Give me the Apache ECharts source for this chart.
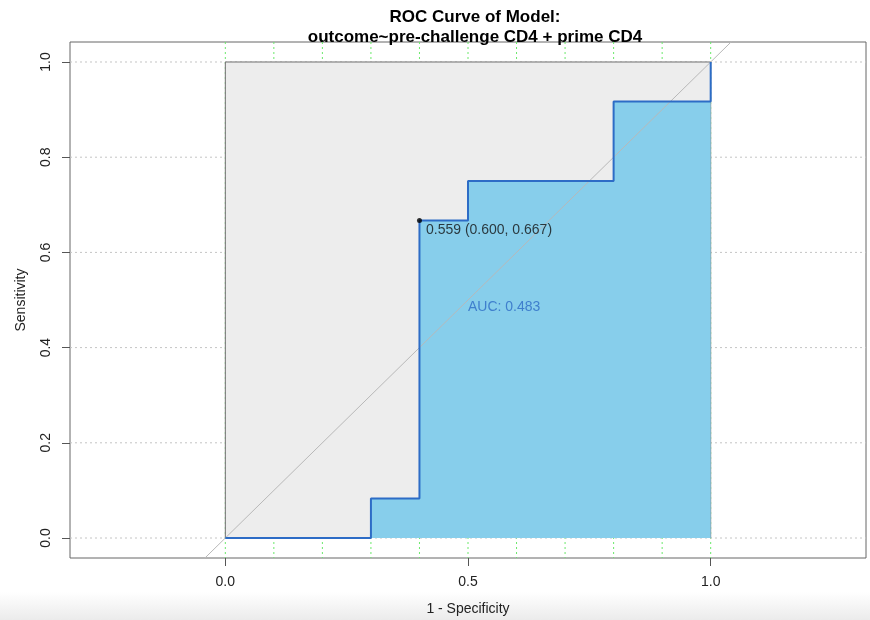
<!DOCTYPE html>
<html>
<head>
<meta charset="utf-8">
<script src="https://cdn.jsdelivr.net/npm/echarts@6/dist/echarts.min.js"></script>
<style>
  html, body { margin: 0; padding: 0; background: #fff; }
  #roc { width: 870px; height: 620px; }
</style>
</head>
<body>
<div id="roc"></div>
<script>
// ROC curve, x = 1 - specificity, y = sensitivity (steps)
var fpr = [0, 0.3, 0.3, 0.4, 0.4, 0.5, 0.5, 0.8, 0.8, 1.0, 1.0];
var tpr = [0, 0, 0.083, 0.083, 0.667, 0.667, 0.75, 0.75, 0.917, 0.917, 1.0];
// best threshold printed on the plot
var bestThres = 0.559, bestSpec = 0.600, bestSens = 0.667;
var aucValue = 0.483;
// axis ticks and grid
var xTicks = [0, 0.5, 1];
var yTicks = [0, 0.2, 0.4, 0.6, 0.8, 1];
var vGrid = [0, 0.1, 0.2, 0.3, 0.4, 0.5, 0.6, 0.7, 0.8, 0.9, 1];
var hGrid = [0, 0.2, 0.4, 0.6, 0.8, 1];

var curve = [];
for (var i = 0; i < fpr.length; i++) {
  curve.push([fpr[i], tpr[i]]);
}

var blue = '#2d6cc6';
var font = 'Liberation Sans, Arial, Helvetica, sans-serif';

// dotted grid line across the whole plot region
function gridLine(vertical, color) {
  return function (params, api) {
    var cs = params.coordSys;
    var p = api.coord(vertical ? [api.value(0), 0] : [0, api.value(0)]);
    var shape = vertical
      ? { x1: p[0], y1: cs.y, x2: p[0], y2: cs.y + cs.height }
      : { x1: cs.x, y1: p[1], x2: cs.x + cs.width, y2: p[1] };
    return {
      type: 'line', shape: shape,
      style: { stroke: color, lineWidth: 1, lineDash: [2, 3] }
    };
  };
}

var chart = echarts.init(document.getElementById('roc'));
chart.setOption({
  animation: false,
  backgroundColor: 'transparent',
  title: {
    text: 'ROC Curve of Model:\noutcome~pre-challenge CD4 + prime CD4',
    left: 470,
    textAlign: 'center',
    top: 2,
    textStyle: { fontFamily: font, fontSize: 17, fontWeight: 'bold', color: '#000', lineHeight: 20 }
  },
  graphic: [{
    type: 'rect',
    z: -10,
    shape: { x: 0, y: 592, width: 870, height: 28 },
    style: {
      fill: new echarts.graphic.LinearGradient(0, 0, 0, 1, [
        { offset: 0, color: '#ffffff' },
        { offset: 1, color: '#ebebeb' }
      ])
    }
  }],
  grid: {
    left: 70, right: 4, top: 42, bottom: 62,
    outerBoundsMode: 'none',
    show: true, borderColor: '#666', borderWidth: 1, backgroundColor: 'transparent'
  },
  xAxis: {
    type: 'value',
    min: -0.32, max: 1.32,
    name: '1 - Specificity',
    nameLocation: 'middle',
    nameGap: 44,
    nameTextStyle: { fontFamily: font, fontSize: 14, color: '#222' },
    axisLine: { show: false, onZero: false },
    axisTick: { show: true, customValues: xTicks, length: 8, lineStyle: { color: '#555' } },
    axisLabel: {
      customValues: xTicks, margin: 17,
      fontFamily: font, fontSize: 14, color: '#222',
      formatter: function (v) { return v.toFixed(1); }
    },
    splitLine: { show: false }
  },
  yAxis: {
    type: 'value',
    min: -0.042, max: 1.042,
    name: 'Sensitivity',
    nameLocation: 'middle',
    nameGap: 42,
    nameTextStyle: { fontFamily: font, fontSize: 14, color: '#222' },
    axisLine: { show: false, onZero: false },
    axisTick: { show: true, customValues: yTicks, length: 8, lineStyle: { color: '#555' } },
    axisLabel: {
      customValues: yTicks, margin: 17, rotate: 90,
      fontFamily: font, fontSize: 14, color: '#222',
      formatter: function (v) { return v.toFixed(1); }
    },
    splitLine: { show: false }
  },
  series: [
    {
      type: 'custom', z: 1, silent: true,
      data: vGrid.map(function (v) { return [v]; }),
      encode: { x: 0 },
      renderItem: gridLine(true, '#6be86b')
    },
    {
      type: 'custom', z: 1, silent: true,
      data: hGrid.map(function (v) { return [v]; }),
      encode: { y: 0 },
      renderItem: gridLine(false, '#c4c4c4')
    },
    {
      // grey unit square
      type: 'line', z: 2, silent: true, symbol: 'none',
      data: [[0, 1], [1, 1]],
      lineStyle: { width: 0 },
      areaStyle: { color: '#ededed', opacity: 1 }
    },
    {
      type: 'line', z: 3, silent: true, symbol: 'none',
      data: [[0, 0], [0, 1], [1, 1], [1, 0]],
      lineStyle: { color: '#6e6e6e', width: 1 }
    },
    {
      // AUC area
      type: 'line', z: 4, silent: true, symbol: 'none',
      data: curve,
      lineStyle: { width: 0 },
      areaStyle: { color: '#87ceeb', opacity: 1 }
    },
    {
      // diagonal
      type: 'line', z: 5, silent: true, symbol: 'none', clip: true,
      data: [[-0.2, -0.2], [1.2, 1.2]],
      lineStyle: { color: '#b8b8b8', width: 1 }
    },
    {
      // ROC curve
      type: 'line', z: 6, silent: true, symbol: 'none',
      data: curve,
      lineStyle: { color: blue, width: 2 }
    },
    {
      type: 'scatter', z: 7, silent: true,
      data: [[1 - bestSpec, bestSens]],
      symbol: 'circle', symbolSize: 5,
      itemStyle: { color: '#000' },
      label: {
        show: true, position: [9, 5], align: 'left', verticalAlign: 'top',
        fontFamily: font, fontSize: 14, color: '#111',
        formatter: bestThres.toFixed(3) + ' (' + bestSpec.toFixed(3) + ', ' + bestSens.toFixed(3) + ')'
      }
    },
    {
      type: 'scatter', z: 7, silent: true,
      data: [[0.5, 0.5]],
      symbol: 'circle', symbolSize: 2,
      itemStyle: { color: 'rgba(0,0,0,0)' },
      label: {
        show: true, position: [1, 1], align: 'left', verticalAlign: 'top',
        fontFamily: font, fontSize: 14, color: blue,
        formatter: 'AUC: ' + aucValue.toFixed(3)
      }
    }
  ]
});
</script>
</body>
</html>
